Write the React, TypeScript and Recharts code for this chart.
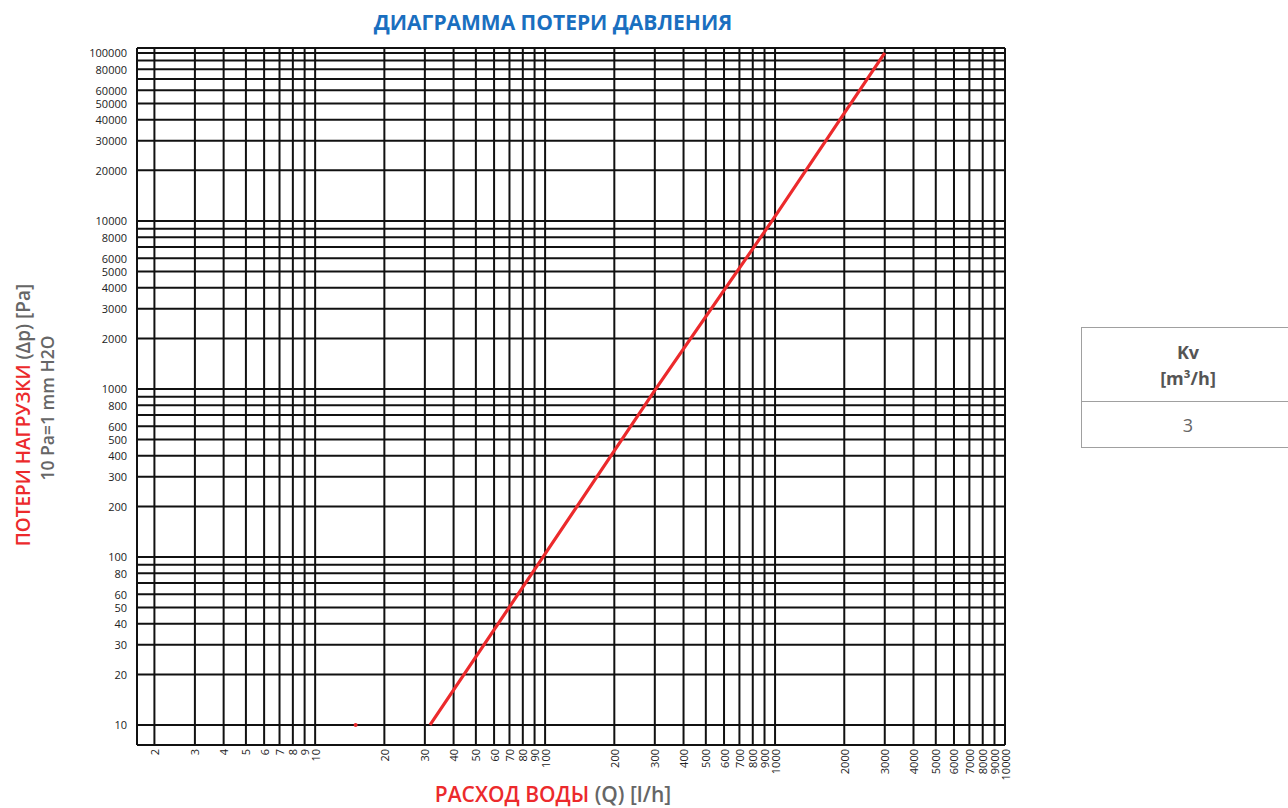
import { ComposedChart, Line, XAxis, YAxis, CartesianGrid } from "recharts";

// flow (l/h) -> pressure loss (Pa) for Kv = 3
const FLOW = [31.6, 98, 303, 970, 3000];
const PRESSURE = [10, 100, 1000, 10000, 100000];
// small stray red mark on the 10 Pa line
const STRAY_FLOW = [15];
const STRAY_PRESSURE = [10];

const X_TICKS = [
  2, 3, 4, 5, 6, 7, 8, 9, 10, 20, 30, 40, 50, 60, 70, 80, 90, 100, 200, 300, 400, 500, 600, 700,
  800, 900, 1000, 2000, 3000, 4000, 5000, 6000, 7000, 8000, 9000, 10000,
];
const Y_GRID = [
  10, 20, 30, 40, 50, 60, 70, 80, 90, 100, 200, 300, 400, 500, 600, 700, 800, 900, 1000, 2000,
  3000, 4000, 5000, 6000, 7000, 8000, 9000, 10000, 20000, 30000, 40000, 50000, 60000, 70000, 80000,
  90000, 100000,
];
const Y_LABELS = [
  10, 20, 30, 40, 50, 60, 80, 100, 200, 300, 400, 500, 600, 800, 1000, 2000, 3000, 4000, 5000,
  6000, 8000, 10000, 20000, 30000, 40000, 50000, 60000, 80000, 100000,
];

const KV_HEADER = "Kv";
const KV_UNIT = "[m³/h]";
const KV_VALUE = "3";

const lineData = FLOW.map((q, i) => ({ q, dp: PRESSURE[i] }));
const strayData = STRAY_FLOW.map((q, i) => ({ q, dp: STRAY_PRESSURE[i] }));

const FONT = "'Open Sans', 'Noto Sans', sans-serif";
const RED = "#ec2a2c";
const GRAY = "#666666";

function YTick({ y, payload }: any) {
  if (!Y_LABELS.includes(payload.value)) return null;
  return (
    <text x={127} y={y} textAnchor="end" dominantBaseline="central" fontSize={11} fill="#222" fontFamily={FONT}>
      {payload.value}
    </text>
  );
}

function XTick({ x, payload }: any) {
  return (
    <text
      transform={`translate(${x}, 749) rotate(-90)`}
      textAnchor="end"
      dominantBaseline="central"
      fontSize={11}
      fill="#222"
      fontFamily={FONT}
    >
      {payload.value}
    </text>
  );
}

// rotated axis caption centred on (cx, cy)
function Vertical({ cx, cy, size, children }: any) {
  return (
    <div
      style={{
        position: "absolute",
        left: cx - 200,
        top: cy - 13,
        width: 400,
        height: 26,
        lineHeight: "26px",
        transform: "rotate(-90deg)",
        transformOrigin: "200px 13px",
        textAlign: "center",
        fontSize: size,
        fontWeight: 600,
        whiteSpace: "nowrap",
        color: GRAY,
      }}
    >
      {children}
    </div>
  );
}

export default function App() {
  return (
    <div style={{ position: "absolute", left: 0, top: 0, width: 1288, height: 808, background: "#fff", fontFamily: FONT }}>
      <ComposedChart
        width={1288}
        height={808}
        margin={{ top: 48, right: 283, bottom: 13, left: 77 }}
      >
        <CartesianGrid stroke="#111" strokeWidth={2} />
        <XAxis
          dataKey="q"
          type="number"
          scale="log"
          domain={[1.68, 10000]}
          allowDataOverflow
          ticks={X_TICKS}
          interval={0}
          tick={<XTick />}
          tickLine={false}
          axisLine={false}
          height={50}
        />
        <YAxis
          dataKey="dp"
          type="number"
          scale="log"
          domain={[7.6, 107000]}
          allowDataOverflow
          ticks={Y_GRID}
          interval={0}
          tick={<YTick />}
          tickLine={false}
          axisLine={false}
          width={60}
        />
        <Line
          data={lineData}
          dataKey="dp"
          type="linear"
          stroke={RED}
          strokeWidth={3.2}
          dot={false}
          isAnimationActive={false}
        />
        <Line
          data={strayData}
          dataKey="dp"
          stroke={RED}
          dot={{ r: 2, fill: RED, stroke: "none" }}
          isAnimationActive={false}
        />
      </ComposedChart>

      <div
        style={{
          position: "absolute",
          left: 0,
          width: 1106,
          top: 8,
          lineHeight: "28px",
          textAlign: "center",
          color: "#1a6fc0",
          fontWeight: 700,
          fontSize: 21,
        }}
      >
        ДИАГРАММА ПОТЕРИ ДАВЛЕНИЯ
      </div>

      <div
        style={{
          position: "absolute",
          left: 0,
          width: 1106,
          top: 780,
          lineHeight: "28px",
          textAlign: "center",
          fontSize: 21,
          fontWeight: 600,
        }}
      >
        <span style={{ color: RED }}>РАСХОД ВОДЫ</span>
        <span style={{ color: GRAY }}> (Q) [l/h]</span>
      </div>

      <Vertical cx={23} cy={415} size={19}>
        <span style={{ color: RED }}>ПОТЕРИ НАГРУЗКИ</span> (Δp) [Pa]
      </Vertical>
      <Vertical cx={47} cy={408} size={17.5}>
        10 Pa=1 mm H2O
      </Vertical>

      <div
        style={{
          position: "absolute",
          left: 1081,
          top: 327,
          width: 220,
          height: 121,
          border: "1px solid #a0a0a0",
          color: "#555",
          fontSize: 18,
          textAlign: "center",
          boxSizing: "border-box",
        }}
      >
        <div
          style={{
            height: 74,
            borderBottom: "1px solid #a0a0a0",
            fontWeight: 700,
            paddingRight: 6,
            paddingTop: 11,
            boxSizing: "border-box",
            lineHeight: "26px",
          }}
        >
          <div>{KV_HEADER}</div>
          <div>{KV_UNIT}</div>
        </div>
        <div style={{ lineHeight: "46px", paddingRight: 6, color: "#666" }}>{KV_VALUE}</div>
      </div>
    </div>
  );
}
